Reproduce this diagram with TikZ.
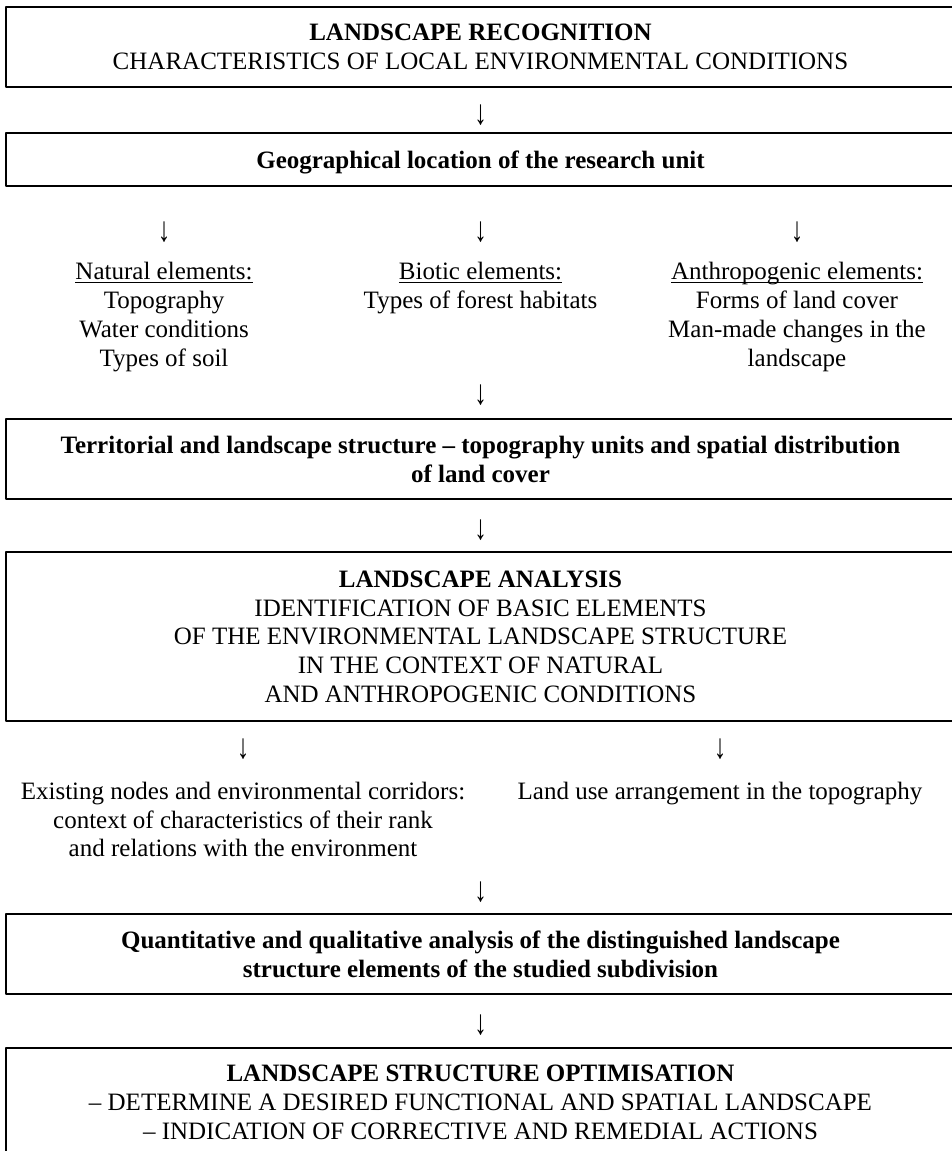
\documentclass[tikz,border=0pt]{standalone}
\usepackage{fontspec}
\usepackage{graphicx}
\setmainfont{Liberation Serif}
\newsavebox{\ulbox}
\newcommand{\ulabel}[1]{\sbox{\ulbox}{#1}\rlap{\rule[-1.7pt]{\wd\ulbox}{0.8pt}}\usebox{\ulbox}}
\newcommand{\downarr}{\scalebox{1}[1.4]{↓}}
\begin{document}
\begin{tikzpicture}[x=0.48pt, y=-0.48pt, font=\fontsize{12}{13.8}\selectfont, line join=round, line cap=round,
	frame/.style={draw, line width=0.96pt, minimum width=455.5pt, inner sep=0pt, align=center, text depth=0pt},
	col/.style={anchor=north, inner sep=0pt, align=center},
	arr/.style={inner sep=0pt}]
	\useasboundingbox (0,0) rectangle (951,1151);

	\path
	(480.5,47) node[frame, minimum height=38.4pt] (recog) {\textbf{LANDSCAPE RECOGNITION}\\CHARACTERISTICS OF LOCAL ENVIRONMENTAL CONDITIONS}
	(480.5,159.5) node[frame, minimum height=25.4pt] (geo) {\textbf{Geographical location of the research unit}}
	(480.5,459) node[frame, minimum height=38.4pt] (terr) {\textbf{Territorial and landscape structure – topography units and spatial distribution}\\\textbf{of land cover}}
	(480.5,636.5) node[frame, minimum height=81.1pt] (anal) {\textbf{LANDSCAPE ANALYSIS}\\IDENTIFICATION OF BASIC ELEMENTS\\OF THE ENVIRONMENTAL LANDSCAPE STRUCTURE\\IN THE CONTEXT OF NATURAL\\AND ANTHROPOGENIC CONDITIONS}
	(480.5,954) node[frame, minimum height=38.4pt] (quant) {\textbf{Quantitative and qualitative analysis of the distinguished landscape}\\\textbf{structure elements of the studied subdivision}}
	(480.5,1102) node[frame, minimum height=51.8pt] (optim) {\textbf{LANDSCAPE STRUCTURE OPTIMISATION}\\– DETERMINE A DESIRED FUNCTIONAL AND SPATIAL LANDSCAPE\\– INDICATION OF CORRECTIVE AND REMEDIAL ACTIONS}
	;

	\path
	(164,262) node[col] (natural) {\ulabel{Natural elements:}\\Topography\\Water conditions\\Types of soil}
	(480.5,262) node[col] (biotic) {\ulabel{Biotic elements:}\\Types of forest habitats}
	(797,262) node[col] (anthro) {\ulabel{Anthropogenic elements:}\\Forms of land cover\\Man-made changes in the\\landscape}
	(243,781.5) node[col] (nodes) {Existing nodes and environmental corridors:\\context of characteristics of their rank\\and relations with the environment}
	(720,781.5) node[col] (landuse) {Land use arrangement in the topography}
	;

	\foreach \n/\x/\y in {a1/480.5/115, a2/164/232, a3/480.5/232, a4/797/232, a5/480.5/395.5, a6/480.5/530, a7/243/749, a8/720/749, a9/480.5/892, a10/480.5/1025}
	\node[arr] (\n) at (\x,\y) {\downarr};
\end{tikzpicture}
\end{document}
